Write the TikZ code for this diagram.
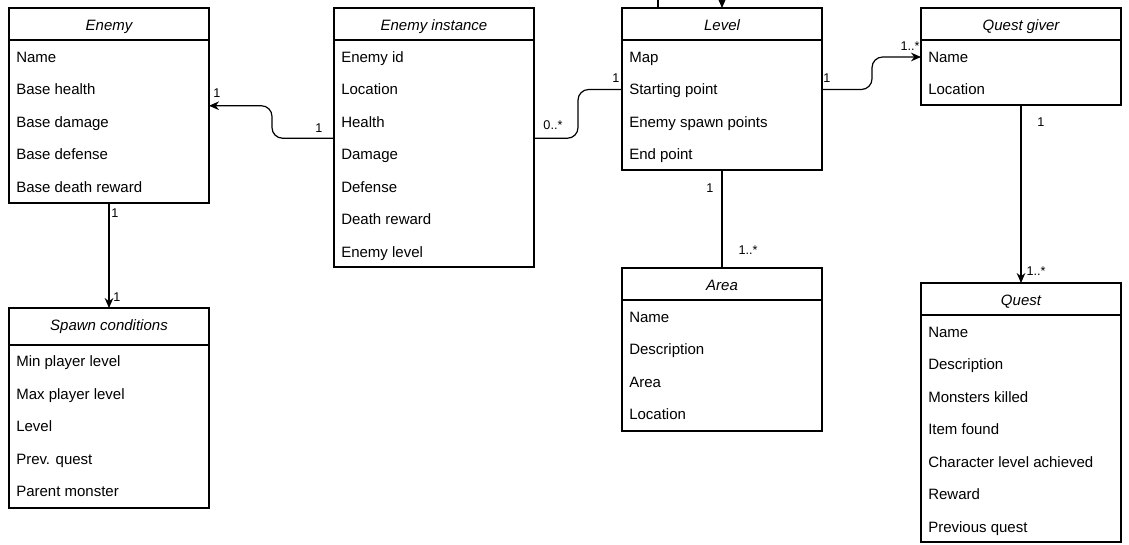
\documentclass[tikz,border=0pt]{standalone}
\usepackage{fontspec}
\setmainfont{Liberation Sans}
\usepackage{tikz}
\usetikzlibrary{positioning, arrows.meta, calc}

\begin{document}
\begin{tikzpicture}[x=0.75pt,y=-0.75pt,
  classbox/.style={draw,line width=0.9pt,anchor=north west,minimum width=150pt,inner sep=0pt,outer sep=0pt},
  title/.style={font=\fontsize{11.25}{13}\selectfont\itshape,inner sep=0pt,text height=8.1pt,text depth=0pt},
  attr/.style={font=\fontsize{11.25}{13}\selectfont,anchor=west,inner sep=0pt,text height=8.1pt,text depth=0pt},
  mult/.style={font=\fontsize{9.5}{11}\selectfont,inner sep=0pt,text height=6.9pt,text depth=0pt},
  conn/.style={line width=0.9pt,-{Stealth[length=7.5pt,width=6.5pt]}},
  plain/.style={line width=0.9pt}]
\useasboundingbox (0,0) rectangle (1129,545);

% Enemy
\node[classbox,minimum height=146.25pt] (enemy) at (9,8) {};
\node[title] (enemy-t) at (109,25) {Enemy};
\draw[plain] (enemy.west |- 0,40) -- (enemy.east |- 0,40);
\foreach \f [count=\i] in {Name,Base health,Base damage,Base defense,Base death reward}
  \node[attr] (enemy-\i) at (16,{24.5+32.5*\i}) {\f};

% Enemy instance
\node[classbox,minimum height=194.25pt] (inst) at (334,8) {};
\node[title] (inst-t) at (434,25) {Enemy instance};
\draw[plain] (inst.west |- 0,40) -- (inst.east |- 0,40);
\foreach \f [count=\i] in {Enemy id,Location,Health,Damage,Defense,Death reward,Enemy level}
  \node[attr] (inst-\i) at (341,{24.5+32.5*\i}) {\f};

% Level
\node[classbox,minimum height=121.5pt] (level) at (622,8) {};
\node[title] (level-t) at (722,25) {Level};
\draw[plain] (level.west |- 0,40) -- (level.east |- 0,40);
\foreach \f [count=\i] in {Map,Starting point,Enemy spawn points,End point}
  \node[attr] (level-\i) at (629,{24.5+32.5*\i}) {\f};

% Quest giver
\node[classbox,minimum height=72.75pt] (giver) at (921,8) {};
\node[title] (giver-t) at (1021,25) {Quest giver};
\draw[plain] (giver.west |- 0,40) -- (giver.east |- 0,40);
\foreach \f [count=\i] in {Name,Location}
  \node[attr] (giver-\i) at (928,{24.5+32.5*\i}) {\f};

% Spawn conditions
\node[classbox,minimum height=150pt] (spawn) at (9,308) {};
\node[title] (spawn-t) at (109,325) {Spawn conditions};
\draw[plain] (spawn.west |- 0,345) -- (spawn.east |- 0,345);
\foreach \f [count=\i] in {Min player level,Max player level,Level,Prev. quest,Parent monster}
  \node[attr] (spawn-\i) at (16,{329+32.5*\i}) {\f};

% Area
\node[classbox,minimum height=122.25pt] (area) at (622,268) {};
\node[title] (area-t) at (722,285) {Area};
\draw[plain] (area.west |- 0,300) -- (area.east |- 0,300);
\foreach \f [count=\i] in {Name,Description,Area,Location}
  \node[attr] (area-\i) at (629,{284.5+32.5*\i}) {\f};

% Quest
\node[classbox,minimum height=194.25pt] (quest) at (921,283) {};
\node[title] (quest-t) at (1021,300) {Quest};
\draw[plain] (quest.west |- 0,315) -- (quest.east |- 0,315);
\foreach \f [count=\i] in {Name,Description,Monsters killed,Item found,Character level achieved,Reward,Previous quest}
  \node[attr] (quest-\i) at (928,{299.5+32.5*\i}) {\f};

% connectors
\coordinate (inst-h) at ($(inst-3)!.5!(inst-4)$);
\coordinate (enemy-h) at ($(enemy-2)!.5!(enemy-3)$);
\draw[conn,rounded corners=8pt] (inst.west |- inst-h) -- ++(-62,0) |- (enemy.east |- enemy-h);
\draw[plain,rounded corners=8pt] (inst.east |- inst-h) -- ++(44,0) |- (level.west |- level-2);
\draw[conn,rounded corners=8pt] (level.east |- level-2) -- ++(50,0) |- (giver.west |- giver-1);
\draw[conn] (enemy.south) -- (spawn.north);
\draw[plain] (level.south) -- (area.north);
\draw[conn] (giver.south) -- (quest.north);

% cut off at the top
\coordinate (top-a) at (658,-20);
\coordinate (top-b) at (722,-20);
\draw[plain] (top-a) -- (top-a |- level.north);
\draw[conn] (top-b) -- (level.north);

% multiplicities
\node[mult] (m-enemy) at (217,93) {1};
\node[mult] (m-inst-l) at (319,128) {1};
\node[mult] (m-inst-r) at (553,125) {0..*};
\node[mult] (m-level-l) at (616,78) {1};
\node[mult] (m-level-r) at (827,78) {1};
\node[mult] (m-giver-l) at (910,46) {1..*};
\node[mult] (m-enemy-b) at (115,213) {1};
\node[mult] (m-spawn) at (117,297) {1};
\node[mult] (m-level-b) at (710,188) {1};
\node[mult] (m-area) at (748,250) {1..*};
\node[mult] (m-giver-b) at (1041,122) {1};
\node[mult] (m-quest) at (1036,271) {1..*};
\end{tikzpicture}
\end{document}
